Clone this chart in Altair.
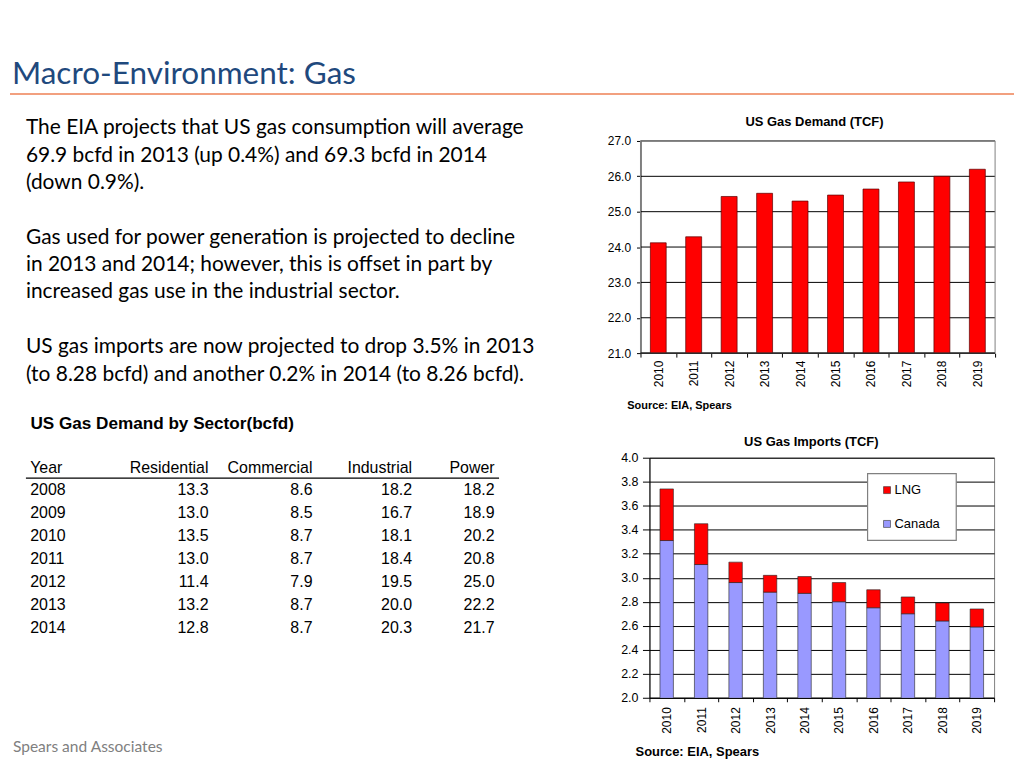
import altair as alt
import pandas as pd

# ---------------- data ----------------
years = ["2010", "2011", "2012", "2013", "2014", "2015", "2016", "2017", "2018", "2019"]
demand_tcf = [24.12, 24.29, 25.43, 25.52, 25.30, 25.47, 25.64, 25.84, 26.00, 26.20]
demand_ticks = [21, 22, 23, 24, 25, 26, 27]
imports_canada = [3.31, 3.11, 2.96, 2.88, 2.87, 2.80, 2.75, 2.70, 2.64, 2.59]
imports_lng = [0.43, 0.34, 0.17, 0.14, 0.14, 0.16, 0.15, 0.14, 0.15, 0.15]
imports_ticks = [2.0, 2.2, 2.4, 2.6, 2.8, 3.0, 3.2, 3.4, 3.6, 3.8, 4.0]
import_sources = ["Canada", "LNG"]
legend_labels = ["LNG", "Canada"]

table_cols = ["Year", "Residential", "Commercial", "Industrial", "Power"]
table_years = ["2008", "2009", "2010", "2011", "2012", "2013", "2014"]
residential = [13.3, 13.0, 13.5, 13.0, 11.4, 13.2, 12.8]
commercial = [8.6, 8.5, 8.7, 8.7, 7.9, 8.7, 8.7]
industrial = [18.2, 16.7, 18.1, 18.4, 19.5, 20.0, 20.3]
power = [18.2, 18.9, 20.2, 20.8, 25.0, 22.2, 21.7]

slide_title = "Macro-Environment: Gas"
para1 = ["The EIA projects that US gas consumption will average",
         "69.9 bcfd in 2013 (up 0.4%) and 69.3 bcfd in 2014",
         "(down 0.9%)."]
para2 = ["Gas used for power generation is projected to decline",
         "in 2013 and 2014; however, this is offset in part by",
         "increased gas use in the industrial sector."]
para3 = ["US gas imports are now projected to drop 3.5% in 2013",
         "(to 8.28 bcfd) and another 0.2% in 2014 (to 8.26 bcfd)."]
table_title = "US Gas Demand by Sector(bcfd)"
footer = "Spears and Associates"
demand_title = "US Gas Demand (TCF)"
imports_title = "US Gas Imports (TCF)"
source_text = "Source: EIA, Spears"

SANS = "Liberation Sans"
BODY = "Lato"
OY = -1.5  # small vertical correction for the left-hand texts


def txt(text, x, y, **style):
    base = dict(align="left", baseline="alphabetic", color="#000000")
    base.update(style)
    return alt.Chart(pd.DataFrame({"t": [text]})).mark_text(lineBreak="\n", **base).encode(
        text="t:N", x=alt.value(x), y=alt.value(y))


def rule(x, x2, y, color, width):
    return alt.Chart(pd.DataFrame({"a": [0]})).mark_rule(color=color, strokeWidth=width).encode(
        x=alt.value(x), x2=alt.value(x2), y=alt.value(y))


def box(x, x2, y, y2, fill, stroke, sw):
    return alt.Chart(pd.DataFrame({"a": [0]})).mark_rect(fill=fill, stroke=stroke, strokeWidth=sw).encode(
        x=alt.value(x), x2=alt.value(x2), y=alt.value(y), y2=alt.value(y2))


# ---------------- left side / header ----------------
left_layers = [
    txt(slide_title, 2, 75.3 + OY, font=BODY, fontSize=31.6, color="#1F497D"),
    rule(0, 1008, 85.3 + OY, "#EE8054", 1.6),
    txt("\n".join(para1), 16, 126 + OY, font=BODY, fontSize=21, lineHeight=27.5),
    txt("\n".join(para2), 16, 235.5 + OY, font=BODY, fontSize=21, lineHeight=27.5),
    txt("\n".join(para3), 16, 345.5 + OY, font=BODY, fontSize=21, lineHeight=27.5),
    txt(table_title, 20.5, 422 + OY, font=SANS, fontSize=17.2, fontWeight="bold"),
    rule(16, 491, 471 + OY, "#000000", 1.3),
    txt(footer, 3, 744, font=BODY, fontSize=15.6, color="#808080"),
]

tdf = pd.DataFrame({
    "row": list(range(len(table_years))),
    "Year": table_years,
    "Residential": residential,
    "Commercial": commercial,
    "Industrial": industrial,
    "Power": power,
})
col_x = {"Year": 20.3, "Residential": 199.3, "Commercial": 303.7, "Industrial": 403.7, "Power": 486.5}
row_y = alt.Y("row:Q", scale=alt.Scale(domain=[0, len(table_years) - 1], range=[488.4 + OY, 626 + OY],
                                       nice=False, zero=False), axis=None)
for c in table_cols:
    al = "left" if c == "Year" else "right"
    left_layers.append(txt(c, col_x[c], 465.7 + OY, font=SANS, fontSize=16, align=al))
    enc_text = alt.Text(f"{c}:N") if c == "Year" else alt.Text(f"{c}:Q", format=".1f")
    left_layers.append(
        alt.Chart(tdf).mark_text(font=SANS, fontSize=16, align=al, baseline="alphabetic", color="#000000")
        .encode(text=enc_text, x=alt.value(col_x[c]), y=row_y)
    )

left = alt.layer(*left_layers).properties(width=633, height=26)

# ---------------- demand chart (plot area reaches 9px left of its cell) ----------------
DX = 9
DW = 347
ddf = pd.DataFrame({"Year": years, "Demand": demand_tcf})
dscale_y = alt.Scale(domain=[21, 27], zero=False, nice=False)
d_yaxis = alt.Axis(title=None, values=demand_ticks, format=".1f", labelFont=SANS, offset=DX,
                   labelFontSize=12, labelColor="#000000", tickColor="#000000", tickSize=4,
                   labelPadding=6, domainColor="#000000", grid=False)
d_xaxis = alt.Axis(title=None, labelAngle=-90, labelFont=SANS, labelFontSize=12, labelColor="#000000",
                   tickColor="#000000", tickSize=4, tickBand="extent", labelPadding=3,
                   domain=False, grid=False)
demand_grid = alt.Chart(pd.DataFrame({"v": demand_ticks})).mark_rule(color="#000000", strokeWidth=1).encode(
    y=alt.Y("v:Q", scale=dscale_y, axis=d_yaxis), x=alt.value(-DX), x2=alt.value(DW))
demand_bars = alt.Chart(ddf).mark_bar(color="#FF0000", stroke="#5A0000", strokeWidth=0.7, size=16, clip=True).encode(
    x=alt.X("Year:N", sort=years, scale=alt.Scale(range=[-DX, DW], paddingInner=0, paddingOuter=0), axis=d_xaxis),
    y=alt.Y("Demand:Q", scale=dscale_y, axis=d_yaxis),
)
demand = alt.layer(
    demand_grid,
    demand_bars,
    box(-DX, DW, 0, 213, "transparent", "#808080", 1),
    rule(-DX, DW, 213, "#000000", 1),
    txt(demand_title, 165.7, -15.4, font=SANS, fontSize=13, fontWeight="bold", align="center"),
    txt(source_text, -22.3, 269, font=SANS, fontSize=11, fontWeight="bold"),
).properties(width=DW, height=213)

# ---------------- imports chart ----------------
rows = []
for i, y in enumerate(years):
    rows.append({"Year": y, "Source": import_sources[0], "Value": imports_canada[i], "ord": 0})
    rows.append({"Year": y, "Source": import_sources[1], "Value": imports_lng[i], "ord": 1})
idf = pd.DataFrame(rows)

imports_bars = alt.Chart(idf).mark_bar(size=13.5, stroke="#222222", strokeWidth=0.6, clip=True).encode(
    x=alt.X("Year:N", sort=years, scale=alt.Scale(paddingInner=0, paddingOuter=0),
            axis=alt.Axis(title=None, labelAngle=-90, labelFont=SANS, labelFontSize=12, labelColor="#000000",
                          tickColor="#000000", tickSize=4, tickBand="extent", labelPadding=5,
                          domainColor="#000000", grid=False)),
    y=alt.Y("Value:Q", stack="zero", scale=alt.Scale(domain=[2.0, 4.0], zero=False, nice=False),
            axis=alt.Axis(title=None, values=imports_ticks,
                          format=".1f", labelFont=SANS, labelFontSize=12.5, labelColor="#000000",
                          tickColor="#000000", tickSize=7, labelPadding=4.5, domainColor="#000000",
                          grid=True, gridColor="#000000", gridOpacity=1, gridWidth=1)),
    color=alt.Color("Source:N", scale=alt.Scale(domain=import_sources, range=["#9999FF", "#FF0000"]), legend=None),
    order=alt.Order("ord:Q"),
)

imports = alt.layer(
    imports_bars,
    box(219, 308, 16, 83, "#FFFFFF", "#808080", 1.2),
    box(235, 242, 29, 36, "#FF0000", "#333333", 0.6),
    box(235, 242, 63, 70, "#9999FF", "#333333", 0.6),
    txt(legend_labels[0], 246, 32.3, font=SANS, fontSize=13, baseline="middle"),
    txt(legend_labels[1], 246, 67, font=SANS, fontSize=13, baseline="middle"),
    txt(imports_title, 162.5, -11.4, font=SANS, fontSize=13, fontWeight="bold", align="center"),
    txt(source_text, -14, 299.3, font=SANS, fontSize=13, fontWeight="bold"),
).properties(width=346, height=241, view=alt.ViewBackground(stroke="#808080", strokeWidth=1))


def spacer(w, h):
    return alt.Chart(pd.DataFrame({"t": [""]})).mark_text().encode(
        text="t:N", x=alt.value(5), y=alt.value(8)).properties(width=w, height=h)


chart = alt.concat(
    left, spacer(10, 26),
    spacer(642, 213), demand,
    spacer(642, 241), imports,
    columns=2, spacing={"row": 105, "column": 0}, align="none", bounds="flush",
).properties(padding=0, background="#FFFFFF").configure_view(stroke="transparent")

chart.save("out.html", embed_options={"renderer": "svg", "actions": False})
